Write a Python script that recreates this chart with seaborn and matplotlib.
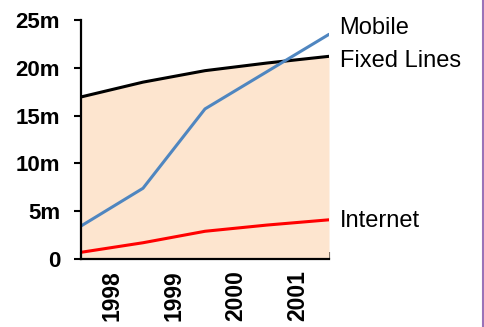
import pandas as pd
import matplotlib.pyplot as plt
import seaborn as sns
from matplotlib.lines import Line2D

points = [1998, 1999, 2000, 2001, 2002]
fixed_lines = [16.95, 18.5, 19.7, 20.5, 21.2]
mobile = [3.45, 7.4, 15.7, 19.6, 23.5]
internet = [0.7, 1.7, 2.9, 3.55, 4.1]
year_labels = ['1998', '1999', '2000', '2001']
y_ticks = [0, 5, 10, 15, 20, 25]
y_labels = ['0', '5m', '10m', '15m', '20m', '25m']

df = pd.DataFrame({'x': points, 'Fixed Lines': fixed_lines,
                   'Mobile': mobile, 'Internet': internet})

sns.set_style('ticks')
plt.rcParams['font.family'] = ['Liberation Sans', 'DejaVu Sans']
plt.rcParams['text.color'] = 'black'
plt.rcParams['xtick.color'] = 'black'
plt.rcParams['ytick.color'] = 'black'
plt.rcParams['axes.edgecolor'] = 'black'

fig = plt.figure(figsize=(4.85, 3.27), dpi=100)
ax = fig.add_axes([81 / 485, 1 - 259 / 327, 248 / 485, 239 / 327])

# peach area under fixed lines
ax.fill_between(df['x'], 0, df['Fixed Lines'], color='#fde5cf', lw=0)

colors = {'Fixed Lines': 'black', 'Mobile': '#4f86c0', 'Internet': '#ff0000'}
for name, c in colors.items():
    sns.lineplot(data=df, x='x', y=name, color=c, lw=2.2, ax=ax)

ax.set_xlim(1998, 2002)
ax.set_ylim(0, 25)
ax.set_xlabel('')
ax.set_ylabel('')

ax.set_yticks(y_ticks)
ax.set_yticklabels(y_labels, fontsize=16, fontweight='bold')
ax.tick_params(axis='y', direction='out', length=5, width=1.5, pad=10,
               colors='black')

# major ticks mark year boundaries, minor ticks carry labels
ax.set_xticks(points)
ax.set_xticklabels([])
ax.tick_params(axis='x', which='major', direction='in', length=5, width=1.5,
               colors='black')
ax.set_xticks([p + 0.5 for p in points[:-1]], minor=True)
ax.set_xticklabels(year_labels, minor=True, rotation=90,
                   fontsize=16.5, fontweight='bold')
ax.tick_params(axis='x', which='minor', length=0, pad=8, colors='black')

for s in ['top', 'right']:
    ax.spines[s].set_visible(False)
for s in ['left', 'bottom']:
    ax.spines[s].set_linewidth(1.6)

# series labels on the right
label_y = {'Mobile': 23.5, 'Fixed Lines': 20.1, 'Internet': 3.35}
for name, yv in label_y.items():
    ax.text(2002 + 0.17, yv, name, fontsize=17, va='baseline', ha='left',
            color='black', clip_on=False)

fig.add_artist(Line2D([483 / 485, 483 / 485], [0, 1], color='#9b72b8', lw=1.5))

fig.savefig('out.png', dpi=100)
